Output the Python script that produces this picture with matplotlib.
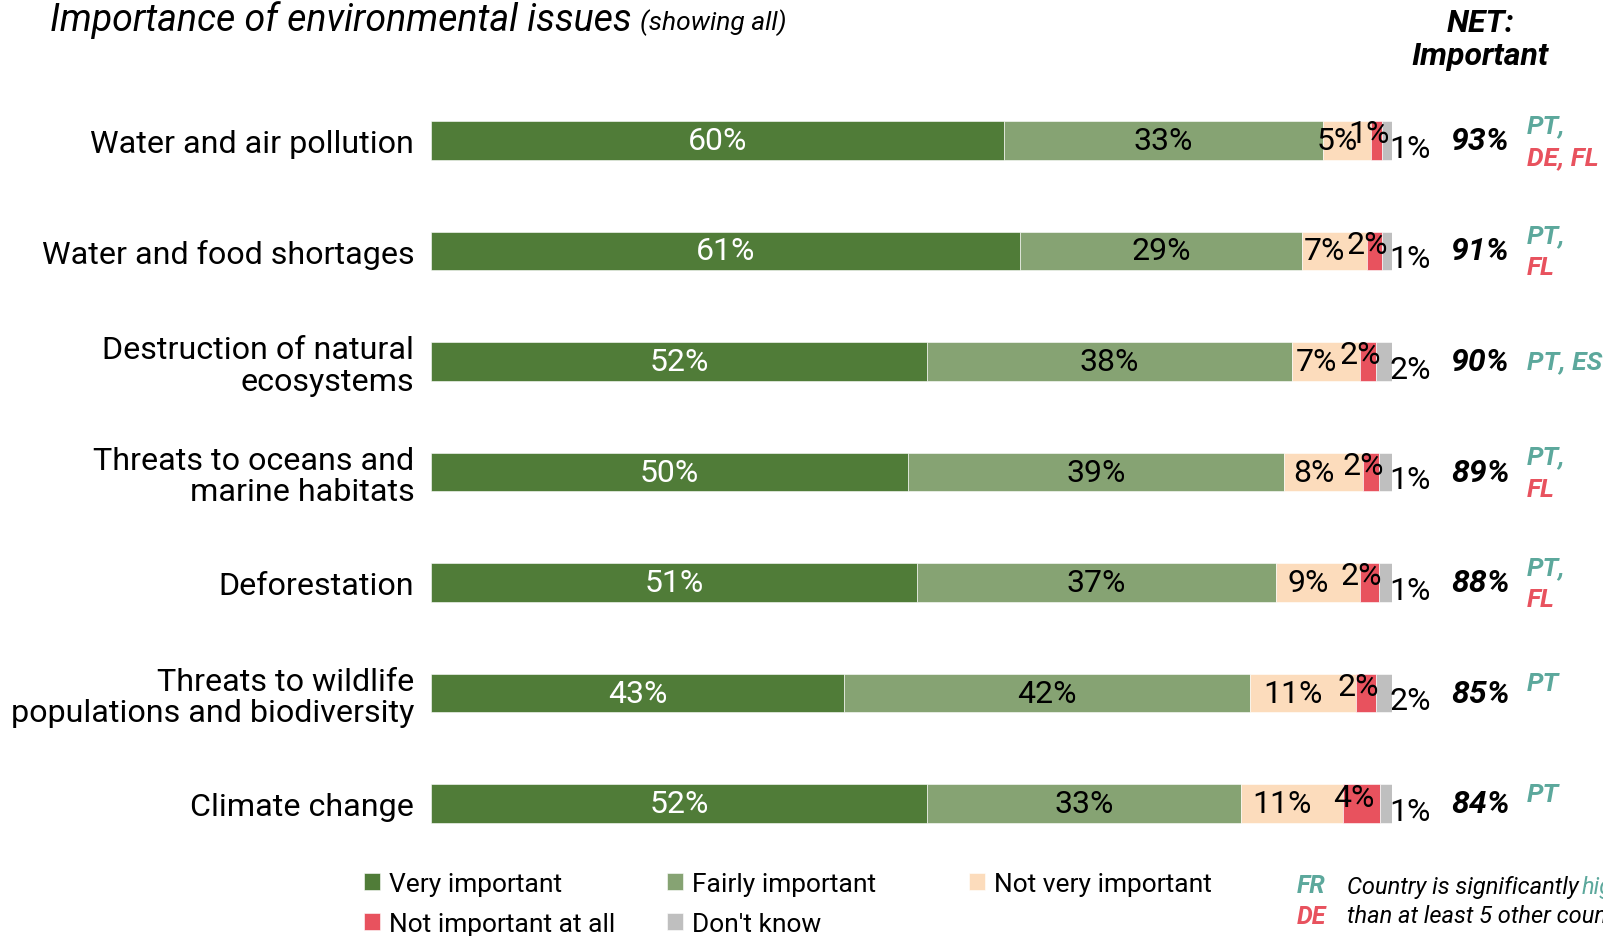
import matplotlib
matplotlib.use('Agg')
import matplotlib.pyplot as plt
import numpy as np

plt.rcParams['font.family'] = ['Roboto', 'DejaVu Sans']

# data (percent of all respondents)
issues = ["Water and air pollution", "Water and food shortages",
          "Destruction of natural\necosystems", "Threats to oceans and\nmarine habitats",
          "Deforestation", "Threats to wildlife\npopulations and biodiversity",
          "Climate change"]
very_imp = [59.6, 61.3, 51.6, 49.6, 50.6, 43.0, 51.6]
fairly_imp = [33.2, 29.3, 38.0, 39.2, 37.3, 42.2, 32.7]
not_very = [5.0, 6.8, 7.1, 8.2, 8.8, 11.1, 10.6]
not_at_all = [1.2, 1.6, 1.6, 1.6, 1.9, 2.0, 3.8]
dont_know = [1.0, 1.0, 1.7, 1.4, 1.4, 1.7, 1.3]
net_important = [93, 91, 90, 89, 88, 85, 84]
higher = ["PT,", "PT,", "PT, ES", "PT,", "PT,", "PT", "PT"]
lower = ["DE, FL", "FL", "", "FL", "FL", "", ""]

series_names = ["Very important", "Fairly important", "Not very important",
                "Not important at all", "Don't know"]
colors = ["#507c38", "#86a373", "#fcdcbc", "#e8525e", "#bfbfbf"]
teal = "#5ca89c"
red = "#e8525e"

fig = plt.figure(figsize=(16.03, 9.37), dpi=100)
ax = fig.add_axes([431 / 1603, 1 - 860 / 937, 961 / 1603, 774 / 937])

y = np.arange(len(issues))
series = [very_imp, fairly_imp, not_very, not_at_all, dont_know]
left = np.zeros(len(issues))
bars = []
for vals, c, name in zip(series, colors, series_names):
    b = ax.barh(y, vals, left=left, height=0.35, color=c, label=name,
                edgecolor='white', linewidth=0.4)
    bars.append(b)
    left += np.array(vals)

fs = 23
for i in range(len(issues)):
    v = [s[i] for s in series]
    x0 = 0
    starts = []
    for val in v:
        starts.append(x0)
        x0 += val
    ax.text(starts[0] + v[0] / 2, i, f"{round(v[0])}%", ha='center', va='center',
            color='white', fontsize=fs)
    ax.text(starts[1] + v[1] / 2, i, f"{round(v[1])}%", ha='center', va='center',
            color='black', fontsize=fs)
    ax.text(starts[2] + v[2] / 2 - 1.0, i, f"{round(v[2])}%", ha='center', va='center',
            color='black', fontsize=fs)
    ax.text(starts[3] + v[3] / 2 - 0.8, i - 0.06, f"{round(v[3])}%", ha='center', va='center',
            color='black', fontsize=fs)
    ax.text(99.7, i + 0.07, f"{round(v[4])}%", ha='left', va='center',
            color='black', fontsize=fs)
    # NET column
    ax.text(109.2, i, f"{net_important[i]}%", ha='center', va='center',
            fontsize=23, fontweight='bold', style='italic')
    # significance markers
    if lower[i]:
        ax.text(114.0, i - 0.14, higher[i], ha='left', va='center', color=teal,
                fontsize=19, fontweight='bold', style='italic')
        ax.text(114.0, i + 0.15, lower[i], ha='left', va='center', color=red,
                fontsize=19, fontweight='bold', style='italic')
    else:
        dy = 0.0 if ',' in higher[i] else -0.09
        ax.text(114.0, i + dy, higher[i], ha='left', va='center', color=teal,
                fontsize=19, fontweight='bold', style='italic')

ax.set_xlim(0, 100)
ax.set_ylim(6.5, -0.5)
ax.set_yticks(y)
ax.set_yticklabels(issues, fontsize=23.2, linespacing=1.1)
ax.tick_params(axis='y', length=0, pad=12)
ax.set_xticks([])
for s in ax.spines.values():
    s.set_visible(False)

# title
fig.text(50 / 1603, 1 - 20 / 937, "Importance of environmental issues", fontsize=27,
         style='italic', va='center', ha='left')
fig.text(640 / 1603, 1 - 23 / 937, "(showing all)", fontsize=19,
         style='italic', va='center', ha='left')
fig.text(1480 / 1603, 1 - 40 / 937, "NET:\nImportant", fontsize=23, fontweight='bold',
         style='italic', ha='center', va='center', linespacing=1.2)

# legend: three fixed-width columns
legend_cols = [[0, 3], [1, 4], [2]]
col_x = [364, 667, 969]
for idx, cx in zip(legend_cols, col_x):
    leg = fig.legend([bars[k] for k in idx], [series_names[k] for k in idx],
                     loc='upper left', bbox_to_anchor=(cx / 1603, 1 - 873 / 937),
                     frameon=False, fontsize=19, handlelength=0.6, handleheight=0.6,
                     handletextpad=0.35, labelspacing=0.6, borderaxespad=0,
                     borderpad=0)

# significance key
fig.text(1297 / 1603, 1 - 886 / 937, "FR", color=teal, fontsize=18, fontweight='bold',
         style='italic', ha='left', va='center')
fig.text(1297 / 1603, 1 - 917 / 937, "DE", color=red, fontsize=18, fontweight='bold',
         style='italic', ha='left', va='center')
fig.text(1347 / 1603, 1 - 888 / 937, "Country is significantly", fontsize=17,
         style='italic', ha='left', va='center')
fig.text(1582 / 1603, 1 - 888 / 937, "higher", fontsize=17, color=teal,
         style='italic', ha='left', va='center')
fig.text(1347 / 1603, 1 - 917 / 937, "than at least 5 other countries", fontsize=17,
         style='italic', ha='left', va='center')

fig.savefig("out.png", dpi=100)
